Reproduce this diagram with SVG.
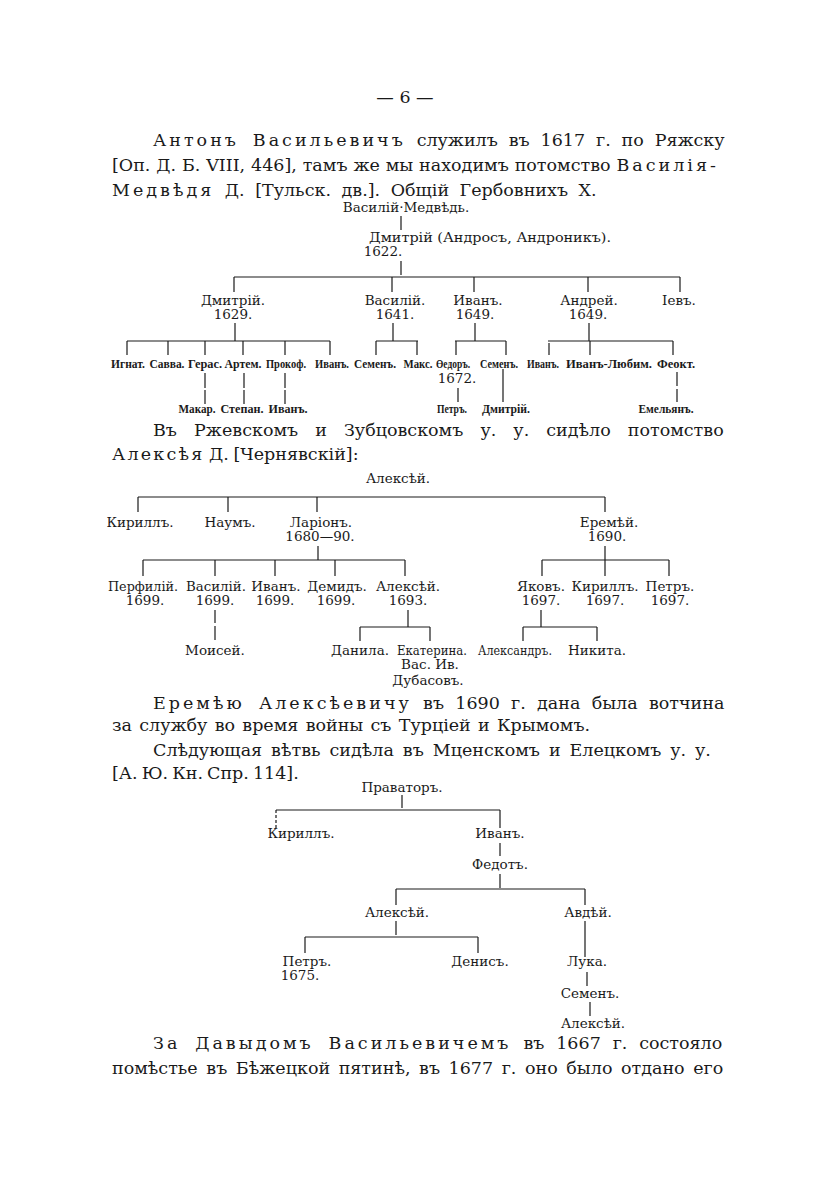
<svg xmlns="http://www.w3.org/2000/svg" width="840" height="1191" viewBox="0 0 840 1191">
<style>
.p{font-family:"DejaVu Serif","Liberation Serif",serif;font-size:17.5px;fill:#1a1a1a}
.sp{letter-spacing:3px}
.n{font-family:"DejaVu Serif","Liberation Serif",serif;font-size:13.5px;fill:#1a1a1a;text-anchor:middle}
.b{font-family:"Liberation Serif","DejaVu Serif",serif;font-size:13.5px;font-weight:bold;fill:#1a1a1a;text-anchor:middle}
.c line{stroke:#1a1a1a;stroke-width:1.2}
</style>
<rect width="840" height="1191" fill="#ffffff"/>
<g id="page-text">
<text class="p" x="405" y="103" text-anchor="middle">— 6 —</text>
<text class="p" x="153" y="146" word-spacing="5.3"><tspan class="sp">Антонъ Васильевичъ</tspan> служилъ въ 1617 г. по Ряжску</text>
<text class="p" x="112" y="171" word-spacing="0.3">[Оп. Д. Б. VIII, 446], тамъ же мы находимъ потомство <tspan class="sp">Василія-</tspan></text>
<text class="p" x="112" y="196" word-spacing="5"><tspan class="sp">Медвѣдя</tspan> Д. [Тульск. дв.]. Общій Гербовнихъ X.</text>
<text class="p" x="153" y="436" word-spacing="11.5">Въ Ржевскомъ и Зубцовскомъ у. у. сидѣло потомство</text>
<text class="p" x="112" y="460" word-spacing="-1"><tspan style="letter-spacing:2.2px">Алексѣя</tspan> Д. [Чернявскій]:</text>
<text class="p" x="153" y="709" word-spacing="5.7"><tspan class="sp">Еремѣю Алексѣевичу</tspan> въ 1690 г. дана была вотчина</text>
<text class="p" x="112" y="731" word-spacing="1.7">за службу во время войны съ Турціей и Крымомъ.</text>
<text class="p" x="153" y="756" word-spacing="3.4">Слѣдующая вѣтвь сидѣла въ Мценскомъ и Елецкомъ у. у.</text>
<text class="p" x="112" y="779" word-spacing="-1.5">[А. Ю. Кн. Спр. 114].</text>
<text class="p" x="153" y="1049" word-spacing="6.3"><tspan class="sp">За Давыдомъ Васильевичемъ</tspan> въ 1667 г. состояло</text>
<text class="p" x="112" y="1074" word-spacing="3">помѣстье въ Бѣжецкой пятинѣ, въ 1677 г. оно было отдано его</text>
</g>
<g id="connectors" class="c">
<line x1="401" y1="216" x2="401" y2="230"/>
<line x1="401" y1="261" x2="401" y2="275"/>
<line x1="234" y1="277" x2="680" y2="277"/>
<line x1="234" y1="277" x2="234" y2="292"/>
<line x1="392" y1="277" x2="392" y2="292"/>
<line x1="474" y1="277" x2="474" y2="292"/>
<line x1="588" y1="277" x2="588" y2="292"/>
<line x1="680" y1="277" x2="680" y2="292"/>
<line x1="235" y1="323" x2="235" y2="341"/>
<line x1="393" y1="323" x2="393" y2="341"/>
<line x1="475" y1="323" x2="475" y2="341"/>
<line x1="589" y1="323" x2="589" y2="341"/>
<line x1="127" y1="341" x2="330" y2="341"/>
<line x1="376" y1="341" x2="418" y2="341"/>
<line x1="455" y1="341" x2="506" y2="341"/>
<line x1="548" y1="341" x2="673" y2="341"/>
<line x1="127" y1="341" x2="127" y2="355"/>
<line x1="168" y1="341" x2="168" y2="355"/>
<line x1="205" y1="341" x2="205" y2="355"/>
<line x1="243" y1="341" x2="243" y2="355"/>
<line x1="285" y1="341" x2="285" y2="355"/>
<line x1="330" y1="341" x2="330" y2="355"/>
<line x1="376" y1="341" x2="376" y2="355"/>
<line x1="417" y1="341" x2="417" y2="355"/>
<line x1="456" y1="341" x2="456" y2="355"/>
<line x1="506" y1="341" x2="506" y2="355"/>
<line x1="549" y1="343" x2="549" y2="355"/>
<line x1="590" y1="341" x2="590" y2="355"/>
<line x1="673" y1="341" x2="673" y2="355"/>
<line x1="205" y1="373" x2="205" y2="388"/>
<line x1="205" y1="390" x2="205" y2="404"/>
<line x1="244" y1="373" x2="244" y2="388"/>
<line x1="244" y1="390" x2="244" y2="404"/>
<line x1="285" y1="373" x2="285" y2="388"/>
<line x1="285" y1="390" x2="285" y2="404"/>
<line x1="458" y1="388" x2="458" y2="402"/>
<line x1="503" y1="369" x2="503" y2="402"/>
<line x1="677" y1="372" x2="677" y2="386"/>
<line x1="677" y1="389" x2="677" y2="402"/>
<line x1="138" y1="497" x2="605" y2="497"/>
<line x1="138" y1="497" x2="138" y2="512"/>
<line x1="228" y1="497" x2="228" y2="512"/>
<line x1="317" y1="497" x2="317" y2="512"/>
<line x1="605" y1="497" x2="605" y2="512"/>
<line x1="318" y1="546" x2="318" y2="560"/>
<line x1="605" y1="546" x2="605" y2="560"/>
<line x1="143" y1="560" x2="405" y2="560"/>
<line x1="542" y1="560" x2="669" y2="560"/>
<line x1="143" y1="560" x2="143" y2="576"/>
<line x1="215" y1="560" x2="215" y2="576"/>
<line x1="275" y1="560" x2="275" y2="576"/>
<line x1="335" y1="560" x2="335" y2="576"/>
<line x1="405" y1="560" x2="405" y2="576"/>
<line x1="542" y1="560" x2="542" y2="576"/>
<line x1="605" y1="560" x2="605" y2="576"/>
<line x1="669" y1="560" x2="669" y2="576"/>
<line x1="215" y1="610" x2="215" y2="623"/>
<line x1="215" y1="626" x2="215" y2="640"/>
<line x1="408" y1="610" x2="408" y2="627"/>
<line x1="541" y1="610" x2="541" y2="627"/>
<line x1="360" y1="627" x2="430" y2="627"/>
<line x1="523" y1="627" x2="597" y2="627"/>
<line x1="360" y1="627" x2="360" y2="641"/>
<line x1="430" y1="627" x2="430" y2="641"/>
<line x1="523" y1="627" x2="523" y2="641"/>
<line x1="597" y1="627" x2="597" y2="641"/>
<line x1="402" y1="795" x2="402" y2="808"/>
<line x1="276" y1="810" x2="500" y2="810"/>
<line x1="276" y1="810" x2="276" y2="828" stroke-dasharray="3 2"/>
<line x1="500" y1="810" x2="500" y2="828"/>
<line x1="500" y1="843" x2="500" y2="856"/>
<line x1="500" y1="874" x2="500" y2="888"/>
<line x1="396" y1="889" x2="585" y2="889"/>
<line x1="396" y1="889" x2="396" y2="905"/>
<line x1="585" y1="889" x2="585" y2="905"/>
<line x1="396" y1="921" x2="396" y2="935"/>
<line x1="585" y1="921" x2="585" y2="957"/>
<line x1="305" y1="937" x2="478" y2="937"/>
<line x1="305" y1="937" x2="305" y2="953"/>
<line x1="478" y1="937" x2="478" y2="953"/>
<line x1="587" y1="972" x2="587" y2="986"/>
<line x1="590" y1="1002" x2="590" y2="1016"/>
</g>
<g id="t1-vasiliy-medved"><text class="n" x="406" y="212">Василій·Медвѣдь.</text></g>
<g id="t1-dmitriy-andros"><text class="n" x="369" y="242" style="text-anchor:start" textLength="242" lengthAdjust="spacingAndGlyphs">Дмитрій (Андросъ, Андроникъ).</text><text class="n" x="383" y="256">1622.</text></g>
<g id="t1-dmitriy"><text class="n" x="233" y="305">Дмитрій.</text><text class="n" x="233" y="319">1629.</text></g>
<g id="t1-vasiliy"><text class="n" x="395" y="305">Василій.</text><text class="n" x="395" y="319">1641.</text></g>
<g id="t1-ivan"><text class="n" x="478" y="305">Иванъ.</text><text class="n" x="475" y="319">1649.</text></g>
<g id="t1-andrey"><text class="n" x="589" y="305">Андрей.</text><text class="n" x="588" y="319">1649.</text></g>
<g id="t1-iev"><text class="n" x="679" y="305">Іевъ.</text></g>
<g id="t1-ignat"><text class="b" x="128" y="368" textLength="34" lengthAdjust="spacingAndGlyphs">Игнат.</text></g>
<g id="t1-savva"><text class="b" x="167" y="368" textLength="35" lengthAdjust="spacingAndGlyphs">Савва.</text></g>
<g id="t1-geras"><text class="b" x="205" y="368" textLength="34" lengthAdjust="spacingAndGlyphs">Герас.</text></g>
<g id="t1-artem"><text class="b" x="243" y="368" textLength="37" lengthAdjust="spacingAndGlyphs">Артем.</text></g>
<g id="t1-prokof"><text class="b" x="286" y="368" textLength="40" lengthAdjust="spacingAndGlyphs">Прокоф.</text></g>
<g id="t1-ivan2"><text class="b" x="332" y="368" textLength="34" lengthAdjust="spacingAndGlyphs">Иванъ.</text></g>
<g id="t1-semen"><text class="b" x="375" y="368" textLength="42" lengthAdjust="spacingAndGlyphs">Семенъ.</text></g>
<g id="t1-maks"><text class="b" x="418" y="368" textLength="29" lengthAdjust="spacingAndGlyphs">Макс.</text></g>
<g id="t1-fedor"><text class="b" x="453" y="368" textLength="34" lengthAdjust="spacingAndGlyphs">Өедоръ.</text><text class="n" x="457" y="383">1672.</text></g>
<g id="t1-semen2"><text class="b" x="499" y="368" textLength="38" lengthAdjust="spacingAndGlyphs">Семенъ.</text></g>
<g id="t1-ivan3"><text class="b" x="543" y="368" textLength="32" lengthAdjust="spacingAndGlyphs">Иванъ.</text></g>
<g id="t1-ivan-lyubim"><text class="b" x="609" y="368" textLength="86" lengthAdjust="spacingAndGlyphs">Иванъ-Любим.</text></g>
<g id="t1-feokt"><text class="b" x="676" y="368" textLength="38" lengthAdjust="spacingAndGlyphs">Феокт.</text></g>
<g id="t1-makar"><text class="b" x="197" y="413" textLength="37" lengthAdjust="spacingAndGlyphs">Макар.</text></g>
<g id="t1-stepan"><text class="b" x="242" y="413" textLength="43" lengthAdjust="spacingAndGlyphs">Степан.</text></g>
<g id="t1-ivan4"><text class="b" x="288" y="413" textLength="39" lengthAdjust="spacingAndGlyphs">Иванъ.</text></g>
<g id="t1-petr"><text class="b" x="452" y="413" textLength="30" lengthAdjust="spacingAndGlyphs">Петръ.</text></g>
<g id="t1-dmitriy2"><text class="b" x="506" y="413" textLength="48" lengthAdjust="spacingAndGlyphs">Дмитрій.</text></g>
<g id="t1-emelyan"><text class="b" x="666" y="413" textLength="55" lengthAdjust="spacingAndGlyphs">Емельянъ.</text></g>
<g id="t2-aleksey"><text class="n" x="398" y="483">Алексѣй.</text></g>
<g id="t2-kirill"><text class="n" x="140" y="527">Кириллъ.</text></g>
<g id="t2-naum"><text class="n" x="230" y="527">Наумъ.</text></g>
<g id="t2-larion"><text class="n" x="321" y="527">Ларіонъ.</text><text class="n" x="320" y="541">1680—90.</text></g>
<g id="t2-eremey"><text class="n" x="609" y="527">Еремѣй.</text><text class="n" x="607" y="541">1690.</text></g>
<g id="t2-perfiliy"><text class="n" x="143" y="591" textLength="70" lengthAdjust="spacingAndGlyphs">Перфилій.</text><text class="n" x="145" y="605">1699.</text></g>
<g id="t2-vasiliy"><text class="n" x="216" y="591" textLength="60" lengthAdjust="spacingAndGlyphs">Василій.</text><text class="n" x="215" y="605">1699.</text></g>
<g id="t2-ivan"><text class="n" x="276" y="591">Иванъ.</text><text class="n" x="275" y="605">1699.</text></g>
<g id="t2-demid"><text class="n" x="337" y="591">Демидъ.</text><text class="n" x="336" y="605">1699.</text></g>
<g id="t2-aleksey2"><text class="n" x="408" y="591">Алексѣй.</text><text class="n" x="408" y="605">1693.</text></g>
<g id="t2-yakov"><text class="n" x="541" y="591">Яковъ.</text><text class="n" x="541" y="605">1697.</text></g>
<g id="t2-kirill2"><text class="n" x="605" y="591">Кириллъ.</text><text class="n" x="605" y="605">1697.</text></g>
<g id="t2-petr"><text class="n" x="670" y="591">Петръ.</text><text class="n" x="670" y="605">1697.</text></g>
<g id="t2-moisey"><text class="n" x="215" y="655">Моисей.</text></g>
<g id="t2-danila"><text class="n" x="360" y="655" textLength="58" lengthAdjust="spacingAndGlyphs">Данила.</text></g>
<g id="t2-ekaterina"><text class="n" x="432" y="655" textLength="70" lengthAdjust="spacingAndGlyphs">Екатерина.</text><text class="n" x="430" y="669">Вас. Ив.</text><text class="n" x="428" y="685">Дубасовъ.</text></g>
<g id="t2-aleksandr"><text class="n" x="515" y="655" textLength="74" lengthAdjust="spacingAndGlyphs">Александръ.</text></g>
<g id="t2-nikita"><text class="n" x="597" y="655" textLength="58" lengthAdjust="spacingAndGlyphs">Никита.</text></g>
<g id="t3-pravator"><text class="n" x="402" y="792">Праваторъ.</text></g>
<g id="t3-kirill"><text class="n" x="301" y="838">Кириллъ.</text></g>
<g id="t3-ivan"><text class="n" x="500" y="838">Иванъ.</text></g>
<g id="t3-fedot"><text class="n" x="500" y="869">Федотъ.</text></g>
<g id="t3-aleksey"><text class="n" x="397" y="917">Алексѣй.</text></g>
<g id="t3-avdey"><text class="n" x="588" y="917">Авдѣй.</text></g>
<g id="t3-petr"><text class="n" x="307" y="966">Петръ.</text><text class="n" x="300" y="980">1675.</text></g>
<g id="t3-denis"><text class="n" x="480" y="966">Денисъ.</text></g>
<g id="t3-luka"><text class="n" x="587" y="966">Лука.</text></g>
<g id="t3-semen"><text class="n" x="590" y="998">Семенъ.</text></g>
<g id="t3-aleksey2"><text class="n" x="593" y="1028">Алексѣй.</text></g>
</svg>
